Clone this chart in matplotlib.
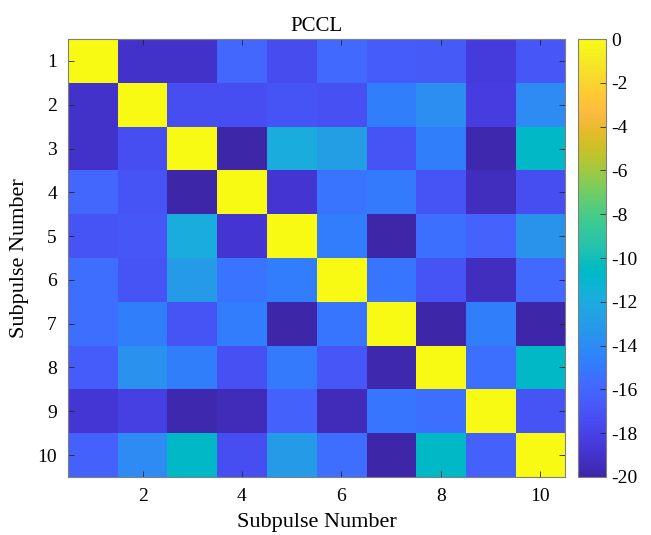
import numpy as np
import matplotlib.pyplot as plt
from matplotlib.colors import LinearSegmentedColormap

# Matriz PCCL (dB), fila = subpulso i, columna = subpulso j
fila1 = [0, -19, -19, -16, -17.5, -15.8, -16.5, -16.7, -18.5, -16.8]
fila2 = [-19, 0, -17.3, -17.3, -17, -17.2, -14.7, -13.8, -18.3, -14]
fila3 = [-19, -17.3, 0, -20, -11.8, -12.8, -17, -14.7, -19.8, -10.7]
fila4 = [-16, -17, -20, 0, -18.8, -15.3, -15, -17, -19.3, -17.3]
fila5 = [-17, -16.8, -11.8, -18.8, 0, -14.8, -20, -15.5, -16.2, -13.5]
fila6 = [-15.6, -17, -13, -15.3, -14.8, 0, -15.2, -17, -19.3, -15.8]
fila7 = [-15.6, -14.7, -17, -14.8, -20, -15.2, 0, -20, -14.7, -20]
fila8 = [-16.5, -13.6, -14.7, -17.2, -15, -16.8, -19.8, 0, -15.5, -10.7]
fila9 = [-18.7, -18.2, -19.8, -19.5, -16.3, -19.5, -15.2, -15.5, 0, -17]
fila10 = [-16.3, -14, -10.7, -17.3, -13, -15.6, -20, -10.7, -16.3, 0]
pccl = np.array([fila1, fila2, fila3, fila4, fila5, fila6, fila7, fila8, fila9, fila10])
n = pccl.shape[0]

# Mapa de color tipo parula (MATLAB)
parula_rgb = [
    [0.2422, 0.1504, 0.6603], [0.2504, 0.1650, 0.7076], [0.2578, 0.1818, 0.7511],
    [0.2647, 0.1978, 0.7952], [0.2706, 0.2147, 0.8364], [0.2751, 0.2342, 0.8710],
    [0.2783, 0.2559, 0.8991], [0.2803, 0.2782, 0.9221], [0.2813, 0.3006, 0.9414],
    [0.2810, 0.3228, 0.9579], [0.2795, 0.3447, 0.9717], [0.2760, 0.3667, 0.9829],
    [0.2699, 0.3892, 0.9906], [0.2602, 0.4123, 0.9952], [0.2440, 0.4358, 0.9988],
    [0.2206, 0.4603, 0.9973], [0.1963, 0.4847, 0.9892], [0.1834, 0.5074, 0.9798],
    [0.1786, 0.5289, 0.9682], [0.1764, 0.5499, 0.9520], [0.1687, 0.5703, 0.9359],
    [0.1540, 0.5902, 0.9218], [0.1460, 0.6091, 0.9079], [0.1380, 0.6276, 0.8973],
    [0.1248, 0.6459, 0.8883], [0.1113, 0.6635, 0.8763], [0.0952, 0.6798, 0.8598],
    [0.0689, 0.6948, 0.8394], [0.0297, 0.7082, 0.8163], [0.0036, 0.7203, 0.7917],
    [0.0067, 0.7312, 0.7660], [0.0433, 0.7411, 0.7394], [0.0964, 0.7500, 0.7120],
    [0.1408, 0.7584, 0.6842], [0.1717, 0.7670, 0.6554], [0.1938, 0.7758, 0.6251],
    [0.2161, 0.7843, 0.5923], [0.2470, 0.7918, 0.5567], [0.2906, 0.7973, 0.5188],
    [0.3406, 0.8008, 0.4789], [0.3909, 0.8029, 0.4354], [0.4456, 0.8024, 0.3909],
    [0.5044, 0.7993, 0.3480], [0.5616, 0.7942, 0.3045], [0.6174, 0.7876, 0.2612],
    [0.6720, 0.7793, 0.2227], [0.7242, 0.7698, 0.1910], [0.7738, 0.7598, 0.1646],
    [0.8203, 0.7498, 0.1535], [0.8634, 0.7406, 0.1596], [0.9035, 0.7330, 0.1774],
    [0.9393, 0.7288, 0.2100], [0.9728, 0.7298, 0.2394], [0.9956, 0.7434, 0.2371],
    [0.9970, 0.7659, 0.2199], [0.9952, 0.7893, 0.2028], [0.9892, 0.8136, 0.1885],
    [0.9786, 0.8386, 0.1766], [0.9676, 0.8639, 0.1643], [0.9610, 0.8890, 0.1537],
    [0.9597, 0.9135, 0.1423], [0.9628, 0.9373, 0.1265], [0.9691, 0.9606, 0.1064],
    [0.9769, 0.9839, 0.0805]]
parula = LinearSegmentedColormap.from_list('parula', parula_rgb, N=256)

plt.rcParams['font.family'] = ['Liberation Serif', 'DejaVu Serif']
plt.rcParams['axes.unicode_minus'] = False

fig = plt.figure(figsize=(6.51, 5.35), dpi=100)
ax = fig.add_axes([0.1045, 0.1085, 0.7635, 0.8185])
im = ax.imshow(pccl, cmap=parula, vmin=-20, vmax=0, aspect='auto',
               extent=[0.5, n + 0.5, n + 0.5, 0.5], interpolation='nearest')

ax.set_xticks([2, 4, 6, 8, 10])
ax.set_yticks(range(1, n + 1))
ax.tick_params(direction='in', length=4, width=0.6, labelsize=14, color='#262626',
               top=True, right=True, pad=8)
for s in ax.spines.values():
    s.set_color('#7f7f7f')
    s.set_linewidth(0.8)
ax.set_title('PCCL', fontsize=15, pad=6)
ax.set_xlabel('Subpulse Number', fontsize=16, labelpad=6)
ax.set_ylabel('Subpulse Number', fontsize=16, labelpad=6)

cax = fig.add_axes([0.888, 0.1085, 0.043, 0.8185])
cb = fig.colorbar(im, cax=cax, ticks=np.arange(-20, 1, 2))
cb.ax.tick_params(direction='in', length=4, width=0.6, labelsize=14, color='#262626')
cb.outline.set_edgecolor('#7f7f7f')
cb.outline.set_linewidth(0.8)

fig.savefig('out.png', dpi=100)
